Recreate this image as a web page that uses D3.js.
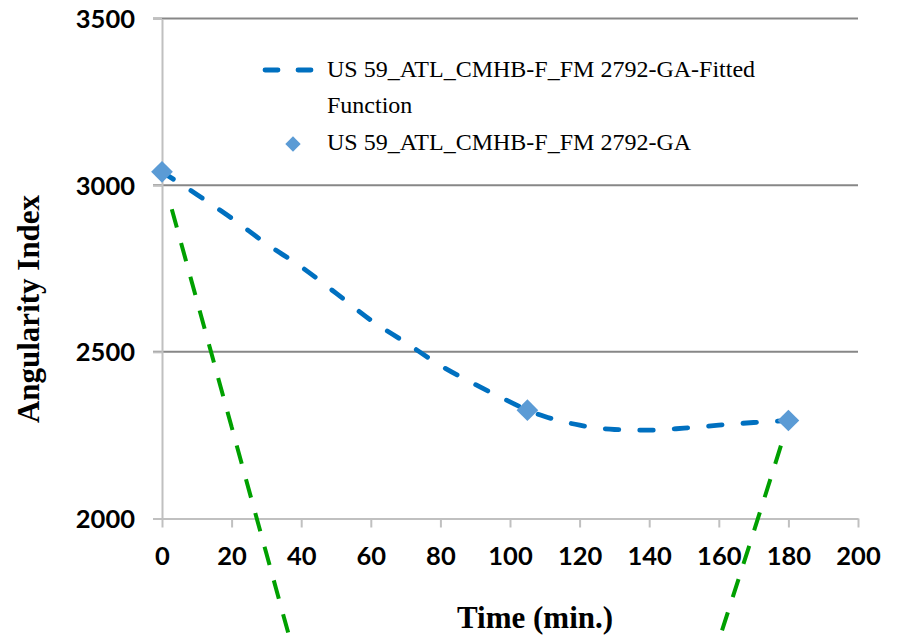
<!DOCTYPE html>
<html>
<head>
<meta charset="utf-8">
<script src="https://cdn.jsdelivr.net/npm/d3@7"></script>
<style>
  body { margin: 0; background: #fff; }
  svg { display: block; }
  .serif { font-family: "Liberation Serif", "Times New Roman", serif; }
</style>
</head>
<body>
<svg id="chart" width="897" height="640"></svg>
<script>
// Measured points
const obsTimes = [0, 105, 180];
const obsValues = [3040, 2325, 2294];

// Blue fitted function
const fitTimes = [0, 10, 20, 30, 40, 50, 60, 70, 80, 90, 100, 105, 110, 120, 130, 140, 150, 160, 170, 180];
const fitValues = [3040, 2972, 2901, 2824, 2755, 2676, 2595, 2528, 2459, 2402, 2350, 2325, 2306, 2280, 2267, 2265, 2271, 2280, 2288, 2294];

// Green dashed curve (runs below the bottom of the picture in the middle)
const greenTimes = [0, 10, 20, 30, 40, 50, 100, 150, 160, 170, 180];
const greenValues = [3035, 2655, 2275, 1895, 1520, 1180, 800, 1310, 1634, 1959, 2290];

const xTicks = [0, 20, 40, 60, 80, 100, 120, 140, 160, 180, 200];
const yTicks = [2000, 2500, 3000, 3500];

const fitLabel = ["US 59_ATL_CMHB-F_FM 2792-GA-Fitted", "Function"];
const obsLabel = "US 59_ATL_CMHB-F_FM 2792-GA";

const margin = { left: 162, top: 18.5, right: 39, bottom: 121.5 };
const width = 897 - margin.left - margin.right;
const height = 640 - margin.top - margin.bottom;

const svg = d3.select("#chart");
const g = svg.append("g").attr("transform", `translate(${margin.left},${margin.top})`);

const x = d3.scaleLinear().domain([0, 200]).range([0, width]);
const y = d3.scaleLinear().domain([2000, 3500]).range([height, 0]);

// Gridlines (with the little left tick)
g.selectAll(".grid").data(yTicks.filter(d => d > 2000)).enter().append("line")
    .attr("x1", -9).attr("x2", width)
    .attr("y1", d => y(d)).attr("y2", d => y(d))
    .attr("stroke", "#878787").attr("stroke-width", 2);

// Y axis
const yAxis = g.append("g").call(d3.axisLeft(y).tickValues(yTicks).tickSize(9).tickSizeOuter(0).tickFormat(d => d));
yAxis.select(".domain").attr("stroke", "#c0c0c0").attr("stroke-width", 2);
yAxis.selectAll(".tick line").attr("stroke", "#c0c0c0").attr("stroke-width", 2);
yAxis.selectAll(".tick text")
    .attr("x", -27).attr("dy", null).attr("y", 9)
    .style("font-family", "Lato, 'Open Sans', sans-serif")
    .style("font-weight", "bold").style("font-size", "25.5px").attr("fill", "#000");

// X axis
const xAxis = g.append("g").attr("transform", `translate(0,${height})`)
    .call(d3.axisBottom(x).tickValues(xTicks).tickSize(9).tickSizeOuter(0).tickFormat(d => d));
xAxis.select(".domain").attr("stroke", "#c0c0c0").attr("stroke-width", 2);
xAxis.selectAll(".tick line").attr("stroke", "#c0c0c0").attr("stroke-width", 2);
xAxis.selectAll(".tick text")
    .attr("y", 46.5).attr("dy", null)
    .style("font-family", "Lato, 'Open Sans', sans-serif")
    .style("font-weight", "bold").style("font-size", "25.5px").attr("fill", "#000");

// Curves
const line = d3.line().x(d => x(d[0])).y(d => y(d[1])).curve(d3.curveMonotoneX);

// green: gap near each end marker, 19/16 dashes from both ends
const green = g.append("path")
    .datum(d3.zip(greenTimes, greenValues))
    .attr("d", line)
    .attr("fill", "none")
    .attr("stroke", "#00a000").attr("stroke-width", 4);
const gLen = green.node().getTotalLength();
const half = gLen / 2;
let left = [0, 37], leftSum = 37;
while (leftSum + 35 < half) { left.push(19, 16); leftSum += 35; }
let right = [19], rightSum = 19 + 27;
while (rightSum + 35 < half) { right.push(16, 19); rightSum += 35; }
right.push(27);
left[left.length - 1] += gLen - leftSum - rightSum + 2;
green.attr("stroke-dasharray", left.concat(right).join(","));

g.append("path")
    .datum(d3.zip(fitTimes, fitValues))
    .attr("d", line)
    .attr("fill", "none")
    .attr("stroke", "#0070c0").attr("stroke-width", 4.8)
    .attr("stroke-linecap", "round")
    .attr("stroke-dasharray", "13.5,21");

const diamond = d3.symbol().type(d3.symbolDiamond2).size(300);
g.selectAll(".pt").data(d3.zip(obsTimes, obsValues)).enter().append("path")
    .attr("d", diamond)
    .attr("transform", d => `translate(${x(d[0])},${y(d[1])})`)
    .attr("fill", "#5b9bd5");

// Legend
const legend = svg.append("g");
legend.append("line")
    .attr("x1", 265).attr("x2", 311).attr("y1", 70).attr("y2", 70)
    .attr("stroke", "#0070c0").attr("stroke-width", 4.8)
    .attr("stroke-linecap", "round").attr("stroke-dasharray", "13,20");
legend.append("path")
    .attr("d", d3.symbol().type(d3.symbolDiamond2).size(150))
    .attr("transform", "translate(293,144)")
    .attr("fill", "#5b9bd5");
const legendText = legend.append("text")
    .attr("class", "serif")
    .style("font-size", "24px").attr("fill", "#000");
legendText.selectAll("tspan").data(fitLabel).enter().append("tspan")
    .attr("x", 327).attr("y", (d, i) => 77 + i * 36)
    .text(d => d);
legend.append("text")
    .attr("class", "serif")
    .attr("x", 327).attr("y", 150)
    .style("font-size", "24px").attr("fill", "#000")
    .text(obsLabel);

// Axis titles
svg.append("text")
    .attr("class", "serif")
    .attr("x", 535).attr("y", 628)
    .attr("text-anchor", "middle")
    .style("font-weight", "bold").style("font-size", "31px")
    .text("Time (min.)");

svg.append("text")
    .attr("class", "serif")
    .attr("transform", "translate(39,309) rotate(-90)")
    .attr("text-anchor", "middle")
    .style("font-weight", "bold").style("font-size", "31px")
    .text("Angularity Index");
</script>
</body>
</html>
